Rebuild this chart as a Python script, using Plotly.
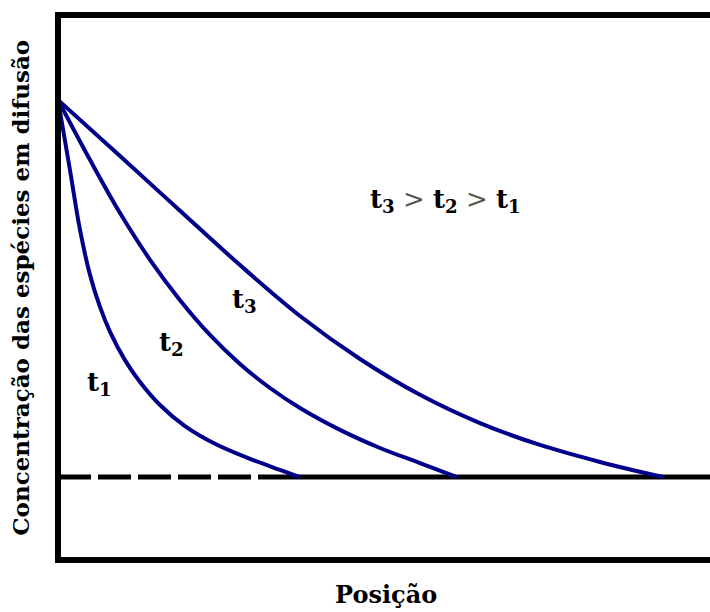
import plotly.graph_objects as go

# Concentration profiles C(x) normalised so that C_s = 1 at the surface and C_0 = 0 in the bulk
pos_t1 = [0.0, 0.198, 0.364, 0.529, 0.694, 0.860, 1.107, 1.355, 1.686, 2.099, 2.595, 3.174, 3.669, 4.0]
conc_t1 = [1.0, 0.814, 0.655, 0.536, 0.451, 0.385, 0.310, 0.252, 0.191, 0.135, 0.088, 0.048, 0.019, 0.0]

pos_t2 = [0.0, 0.529, 1.025, 1.521, 2.017, 2.512, 3.008, 3.504, 4.0, 4.661, 5.322, 5.983, 6.595]
conc_t2 = [1.0, 0.841, 0.700, 0.576, 0.469, 0.377, 0.300, 0.236, 0.183, 0.125, 0.077, 0.037, 0.0]

pos_t3 = [0.0, 1.025, 2.017, 3.008, 4.0, 4.992, 5.983, 6.975, 7.967, 8.959, 10.0]
conc_t3 = [1.0, 0.851, 0.706, 0.562, 0.427, 0.313, 0.218, 0.143, 0.085, 0.040, 0.0]

# Initial (bulk) concentration line: dashed part and solid part
baseline_dashed_x = [0.0, 3.37]
baseline_solid_x = [3.37, 11.5]
baseline_c = [0.0, 0.0]

curve_labels = ["t<sub>1</sub>", "t<sub>2</sub>", "t<sub>3</sub>"]
label_x = [0.69, 1.87, 3.09]
label_y = [0.247, 0.355, 0.467]

x_title = "Posição"
y_title = "Concentração das espécies em difusão"
gt = '<span style="color:#555555"> &gt; </span>'
order_text = "<b>t<sub>3</sub></b>" + gt + "<b>t<sub>2</sub></b>" + gt + "<b>t<sub>1</sub></b>"

NAVY = "#00008B"
FONT = "DejaVu Serif"

fig = go.Figure()

fig.add_trace(go.Scatter(x=baseline_dashed_x, y=baseline_c, mode="lines",
                         line=dict(color="black", width=5, dash="33px,7px"),
                         hoverinfo="skip"))
fig.add_trace(go.Scatter(x=baseline_solid_x, y=baseline_c, mode="lines",
                         line=dict(color="black", width=5), hoverinfo="skip"))

for px, cy in [(pos_t1, conc_t1), (pos_t2, conc_t2), (pos_t3, conc_t3)]:
    fig.add_trace(go.Scatter(x=px, y=cy, mode="lines",
                             line=dict(color=NAVY, width=4, shape="spline", smoothing=1.0)))

for txt, lx, ly in zip(curve_labels, label_x, label_y):
    fig.add_annotation(x=lx, y=ly, text=txt, showarrow=False,
                       xanchor="center", yanchor="middle",
                       font=dict(family=FONT, size=26, color="black", weight="bold"))

fig.add_annotation(x=6.41, y=0.732, text=order_text, showarrow=False,
                   xanchor="center", yanchor="middle",
                   font=dict(family=FONT, size=26, color="black"))

fig.add_annotation(xref="paper", yref="paper", x=0.503, y=-0.064, text=x_title,
                   showarrow=False, xanchor="center", yanchor="middle",
                   font=dict(family=FONT, size=24, color="black", weight="bold"))
fig.add_annotation(xref="paper", yref="paper", x=-0.058, y=0.5, text=y_title,
                   textangle=-90, showarrow=False, xanchor="center", yanchor="middle",
                   font=dict(family=FONT, size=23, color="black", weight="bold"))

# Open frame: left, top and bottom edges (right edge runs past the page)
fig.add_shape(type="rect", xref="paper", yref="paper", x0=0, x1=1.05, y0=0, y1=1,
              line=dict(color="black", width=6), layer="above")

fig.update_layout(
    width=710, height=612,
    margin=dict(l=58, r=0, t=15, b=52),
    paper_bgcolor="white", plot_bgcolor="white",
    showlegend=False,
    xaxis=dict(range=[0, 10.777], visible=False, fixedrange=True),
    yaxis=dict(range=[-0.220, 1.225], visible=False, fixedrange=True),
)

fig.write_html("out.html", config={"displayModeBar": False})
